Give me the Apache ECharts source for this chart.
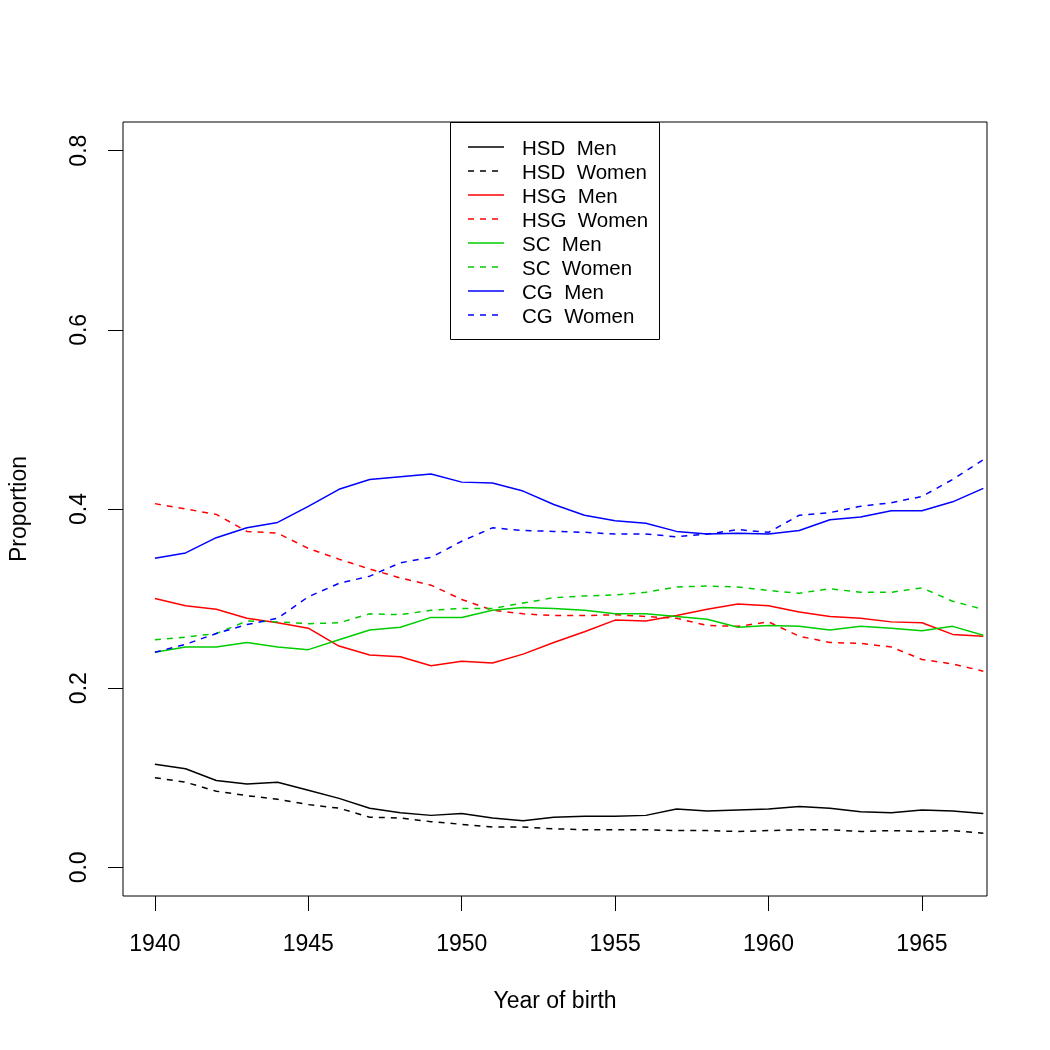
<!DOCTYPE html>
<html>
<head>
<meta charset="utf-8">
<script src="https://cdn.jsdelivr.net/npm/echarts@6/dist/echarts.min.js"></script>
<style>
  html, body { margin: 0; padding: 0; background: #fff; }
  #chart { width: 1050px; height: 1050px; }
</style>
</head>
<body>
<div id="chart"></div>
<script>
// data
const years = [1940, 1941, 1942, 1943, 1944, 1945, 1946, 1947, 1948, 1949, 1950, 1951, 1952, 1953,
  1954, 1955, 1956, 1957, 1958, 1959, 1960, 1961, 1962, 1963, 1964, 1965, 1966, 1967]

const hsdMen = [0.115, 0.110, 0.097, 0.093, 0.095, 0.086, 0.077, 0.066, 0.061, 0.058, 0.060, 0.055, 0.052, 0.056,
  0.057, 0.057, 0.058, 0.065, 0.063, 0.064, 0.065, 0.068, 0.066, 0.062, 0.061, 0.064, 0.063, 0.060]
const hsdWomen = [0.100, 0.095, 0.085, 0.080, 0.076, 0.070, 0.066, 0.056, 0.055, 0.051, 0.048, 0.045, 0.045, 0.043,
  0.042, 0.042, 0.042, 0.041, 0.041, 0.040, 0.041, 0.042, 0.042, 0.040, 0.041, 0.040, 0.041, 0.038]
const hsgMen = [0.300, 0.292, 0.288, 0.278, 0.273, 0.267, 0.247, 0.237, 0.235, 0.225, 0.230, 0.228, 0.238, 0.251,
  0.263, 0.276, 0.275, 0.281, 0.288, 0.294, 0.292, 0.285, 0.280, 0.278, 0.274, 0.273, 0.260, 0.258]
const hsgWomen = [0.406, 0.400, 0.394, 0.375, 0.373, 0.356, 0.344, 0.333, 0.323, 0.315, 0.299, 0.287, 0.283, 0.281,
  0.281, 0.282, 0.280, 0.278, 0.270, 0.269, 0.274, 0.258, 0.251, 0.250, 0.246, 0.232, 0.227, 0.219]
const scMen = [0.240, 0.246, 0.246, 0.251, 0.246, 0.243, 0.254, 0.265, 0.268, 0.279, 0.279, 0.287, 0.290, 0.289,
  0.287, 0.283, 0.283, 0.280, 0.277, 0.268, 0.270, 0.269, 0.265, 0.269, 0.267, 0.264, 0.269, 0.259]
const scWomen = [0.254, 0.257, 0.261, 0.275, 0.274, 0.272, 0.273, 0.283, 0.282, 0.287, 0.289, 0.289, 0.295, 0.301,
  0.303, 0.304, 0.307, 0.313, 0.314, 0.313, 0.309, 0.306, 0.311, 0.307, 0.307, 0.312, 0.297, 0.288]
const cgMen = [0.345, 0.351, 0.368, 0.379, 0.385, 0.403, 0.422, 0.433, 0.436, 0.439, 0.430, 0.429, 0.420, 0.405,
  0.393, 0.387, 0.384, 0.375, 0.372, 0.373, 0.372, 0.376, 0.388, 0.391, 0.398, 0.398, 0.408, 0.423]
const cgWomen = [0.240, 0.249, 0.261, 0.271, 0.278, 0.302, 0.317, 0.325, 0.340, 0.346, 0.364, 0.379, 0.376, 0.375,
  0.374, 0.372, 0.372, 0.369, 0.372, 0.377, 0.374, 0.393, 0.396, 0.403, 0.407, 0.414, 0.433, 0.455]

const xTicks = [1940, 1945, 1950, 1955, 1960, 1965]
const yTicks = [0, 0.2, 0.4, 0.6, 0.8]

const seriesDefs = [
  { name: 'HSD  Men', data: hsdMen, color: '#000000', dashed: false },
  { name: 'HSD  Women', data: hsdWomen, color: '#000000', dashed: true },
  { name: 'HSG  Men', data: hsgMen, color: '#ff0000', dashed: false },
  { name: 'HSG  Women', data: hsgWomen, color: '#ff0000', dashed: true },
  { name: 'SC  Men', data: scMen, color: '#00cd00', dashed: false },
  { name: 'SC  Women', data: scWomen, color: '#00cd00', dashed: true },
  { name: 'CG  Men', data: cgMen, color: '#0000ff', dashed: false },
  { name: 'CG  Women', data: cgWomen, color: '#0000ff', dashed: true },
]

const font = 'Liberation Sans, Arial, Helvetica, sans-serif'
const dash = [6, 6]

// legend drawn as plain graphics (R-style box)
const legendGraphics = [{
  type: 'rect',
  shape: { x: 450.5, y: 122.5, width: 209, height: 217 },
  style: { fill: '#fff', stroke: '#000', lineWidth: 1 },
  z: 10
}]
seriesDefs.forEach((s, i) => {
  const y = 147 + i * 24
  legendGraphics.push({
    type: 'line',
    shape: { x1: 468, y1: y, x2: 504, y2: y },
    style: { stroke: s.color, lineWidth: 1.5, lineDash: s.dashed ? dash : null },
    z: 11
  })
  legendGraphics.push({
    type: 'text',
    x: 522, y: y + 2,
    style: { text: s.name, fill: '#000', font: '20.5px ' + font, textVerticalAlign: 'middle' },
    z: 11
  })
})

const chart = echarts.init(document.getElementById('chart'), null, { renderer: 'canvas' })

chart.setOption({
  animation: false,
  backgroundColor: '#fff',
  textStyle: { fontFamily: font },
  grid: {
    left: 123, top: 122, right: 63, bottom: 154,
    outerBoundsMode: 'none',
    show: true, borderColor: '#000', borderWidth: 1, backgroundColor: 'transparent'
  },
  xAxis: {
    type: 'value',
    min: 1938.96, max: 1967.12,
    name: 'Year of birth',
    nameLocation: 'middle',
    nameGap: 94,
    nameTextStyle: { fontSize: 23, color: '#000' },
    axisLine: { show: false, onZero: false },
    splitLine: { show: false },
    axisTick: { show: true, length: 15, lineStyle: { color: '#000' }, customValues: xTicks },
    axisLabel: { fontSize: 23, color: '#000', margin: 37, customValues: xTicks, formatter: v => String(v) }
  },
  yAxis: {
    type: 'value',
    min: -0.032, max: 0.832,
    name: 'Proportion',
    nameLocation: 'middle',
    nameRotate: 90,
    nameGap: 92,
    nameTextStyle: { fontSize: 23, color: '#000' },
    axisLine: { show: false, onZero: false },
    splitLine: { show: false },
    axisTick: { show: true, length: 15, lineStyle: { color: '#000' }, customValues: yTicks },
    axisLabel: {
      fontSize: 23, color: '#000', margin: 32, rotate: 90,
      customValues: yTicks,
      formatter: v => v.toFixed(1)
    }
  },
  graphic: legendGraphics,
  series: seriesDefs.map(s => ({
    name: s.name,
    type: 'line',
    data: years.map((yr, i) => [yr, s.data[i]]),
    symbol: 'none',
    clip: true,
    lineStyle: { color: s.color, width: 1.5, type: s.dashed ? dash : 'solid' }
  }))
})
</script>
</body>
</html>
